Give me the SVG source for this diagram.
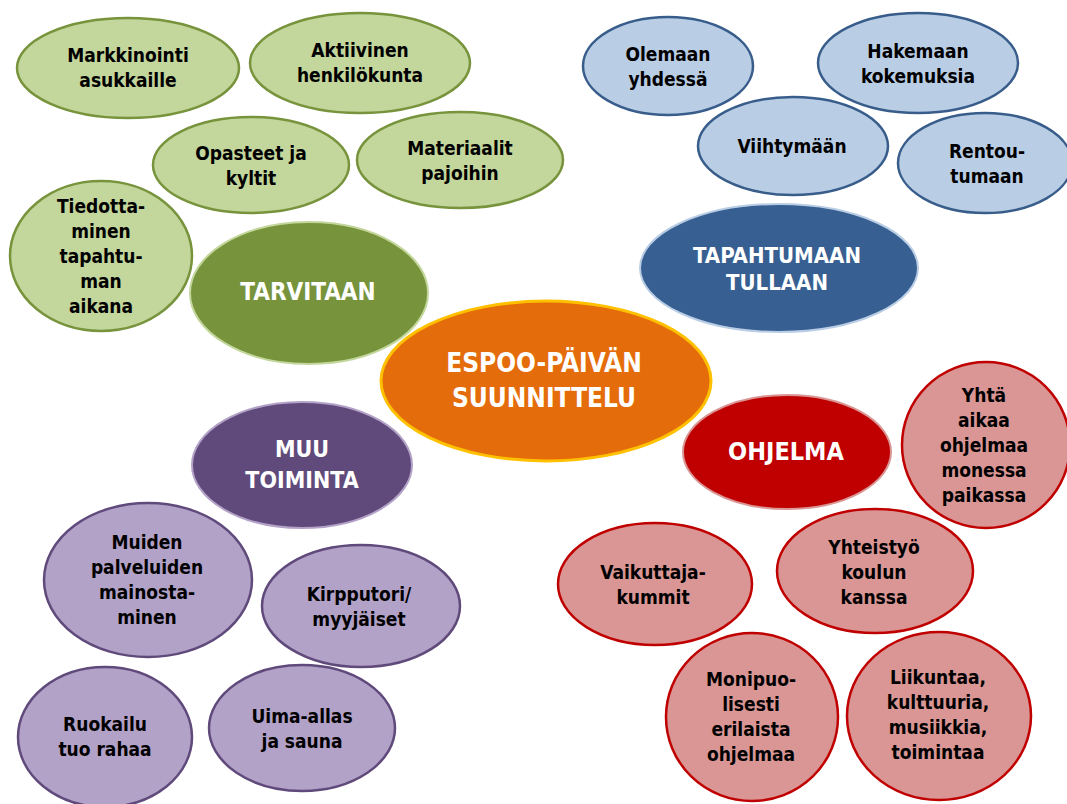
<svg xmlns="http://www.w3.org/2000/svg" width="1067" height="804" viewBox="0 0 1067 804">
<style>
.t{font-family:"DejaVu Sans Condensed","DejaVu Sans",sans-serif;font-weight:bold;font-size:19px;fill:#000;text-anchor:middle}
.big{font-family:"DejaVu Sans Condensed","DejaVu Sans",sans-serif;font-weight:bold;fill:#fff;text-anchor:middle}
.g{fill:#c3d69b;stroke:#77933c;stroke-width:2.5}
.b{fill:#b9cde5;stroke:#385d8a;stroke-width:2.5}
.p{fill:#b3a2c7;stroke:#604a7b;stroke-width:2.5}
.r{fill:#d99694;stroke:#c00000;stroke-width:2.5}
</style>
<rect width="1067" height="804" fill="#fff"/>
<g id="connectors"></g>

<g id="n-markkinointi"><ellipse class="g" cx="128" cy="68" rx="111" ry="50"/><text class="t" x="128"><tspan x="128" y="62">Markkinointi</tspan><tspan x="128" y="87">asukkaille</tspan></text></g>
<g id="n-aktiivinen"><ellipse class="g" cx="360" cy="63" rx="110" ry="50"/><text class="t"><tspan x="360" y="57">Aktiivinen</tspan><tspan x="360" y="82">henkilökunta</tspan></text></g>
<g id="n-opasteet"><ellipse class="g" cx="251" cy="165" rx="98" ry="48"/><text class="t"><tspan x="251" y="160">Opasteet ja</tspan><tspan x="251" y="185">kyltit</tspan></text></g>
<g id="n-materiaalit"><ellipse class="g" cx="460" cy="160" rx="103" ry="48"/><text class="t"><tspan x="460" y="155">Materiaalit</tspan><tspan x="460" y="180">pajoihin</tspan></text></g>
<g id="n-tiedottaminen"><ellipse class="g" cx="101" cy="256" rx="91" ry="75"/><text class="t"><tspan x="101" y="213">Tiedotta-</tspan><tspan x="101" y="238">minen</tspan><tspan x="101" y="263">tapahtu-</tspan><tspan x="101" y="288">man</tspan><tspan x="101" y="313">aikana</tspan></text></g>
<g id="n-tarvitaan"><ellipse cx="309" cy="293" rx="119" ry="71" fill="#77933c" stroke="#c3d69b" stroke-width="2"/><text class="big" x="308" y="300" font-size="24">TARVITAAN</text></g>

<g id="n-olemaan"><ellipse class="b" cx="668" cy="66" rx="85" ry="49"/><text class="t"><tspan x="668" y="61">Olemaan</tspan><tspan x="668" y="86">yhdessä</tspan></text></g>
<g id="n-hakemaan"><ellipse class="b" cx="918" cy="63" rx="100" ry="50"/><text class="t"><tspan x="918" y="58">Hakemaan</tspan><tspan x="918" y="83">kokemuksia</tspan></text></g>
<g id="n-viihtymaan"><ellipse class="b" cx="793" cy="146" rx="95" ry="49"/><text class="t" x="792" y="153">Viihtymään</text></g>
<g id="n-rentoutumaan"><ellipse class="b" cx="985" cy="163" rx="87" ry="50"/><text class="t"><tspan x="987" y="158">Rentou-</tspan><tspan x="987" y="183">tumaan</tspan></text></g>
<g id="n-tapahtumaan"><ellipse cx="779" cy="268" rx="139" ry="64" fill="#375f91" stroke="#b9cde5" stroke-width="2"/><text class="big" font-size="22"><tspan x="777" y="263">TAPAHTUMAAN</tspan><tspan x="777" y="290">TULLAAN</tspan></text></g>

<g id="n-espoo"><ellipse cx="546" cy="381" rx="165" ry="80" fill="#e46c0a" stroke="#ffc000" stroke-width="3"/><text class="big" font-size="26"><tspan x="544" y="372">ESPOO-PÄIVÄN</tspan><tspan x="544" y="407">SUUNNITTELU</tspan></text></g>

<g id="n-muu"><ellipse cx="302" cy="465" rx="110" ry="63" fill="#604a7b" stroke="#b3a2c7" stroke-width="2"/><text class="big" font-size="23"><tspan x="302" y="457">MUU</tspan><tspan x="302" y="488">TOIMINTA</tspan></text></g>
<g id="n-muiden"><ellipse class="p" cx="148" cy="580" rx="104" ry="77"/><text class="t"><tspan x="147" y="549">Muiden</tspan><tspan x="147" y="574">palveluiden</tspan><tspan x="147" y="599">mainosta-</tspan><tspan x="147" y="624">minen</tspan></text></g>
<g id="n-kirpputori"><ellipse class="p" cx="361" cy="606" rx="99" ry="61"/><text class="t"><tspan x="359" y="601">Kirpputori/</tspan><tspan x="359" y="626">myyjäiset</tspan></text></g>
<g id="n-ruokailu"><ellipse class="p" cx="105" cy="737" rx="87" ry="70"/><text class="t"><tspan x="105" y="731">Ruokailu</tspan><tspan x="105" y="756">tuo rahaa</tspan></text></g>
<g id="n-uima"><ellipse class="p" cx="302" cy="728" rx="93" ry="63"/><text class="t"><tspan x="302" y="723">Uima-allas</tspan><tspan x="302" y="748">ja sauna</tspan></text></g>

<g id="n-ohjelma"><ellipse cx="787" cy="452" rx="104" ry="57" fill="#c00000" stroke="#d99694" stroke-width="2"/><text class="big" x="786" y="460" font-size="25">OHJELMA</text></g>
<g id="n-yhta"><ellipse class="r" cx="986" cy="445" rx="84" ry="83"/><text class="t"><tspan x="984" y="402">Yhtä</tspan><tspan x="984" y="427">aikaa</tspan><tspan x="984" y="452">ohjelmaa</tspan><tspan x="984" y="477">monessa</tspan><tspan x="984" y="502">paikassa</tspan></text></g>
<g id="n-vaikuttaja"><ellipse class="r" cx="655" cy="584" rx="97" ry="61"/><text class="t"><tspan x="653" y="579">Vaikuttaja-</tspan><tspan x="653" y="604">kummit</tspan></text></g>
<g id="n-yhteistyo"><ellipse class="r" cx="875" cy="571" rx="98" ry="62"/><text class="t"><tspan x="874" y="554">Yhteistyö</tspan><tspan x="874" y="579">koulun</tspan><tspan x="874" y="604">kanssa</tspan></text></g>
<g id="n-monipuolisesti"><ellipse class="r" cx="752" cy="717" rx="86" ry="84"/><text class="t"><tspan x="751" y="686">Monipuo-</tspan><tspan x="751" y="711">lisesti</tspan><tspan x="751" y="736">erilaista</tspan><tspan x="751" y="761">ohjelmaa</tspan></text></g>
<g id="n-liikuntaa"><ellipse class="r" cx="939" cy="716" rx="92" ry="84"/><text class="t"><tspan x="938" y="684">Liikuntaa,</tspan><tspan x="938" y="709">kulttuuria,</tspan><tspan x="938" y="734">musiikkia,</tspan><tspan x="938" y="759">toimintaa</tspan></text></g>
</svg>
